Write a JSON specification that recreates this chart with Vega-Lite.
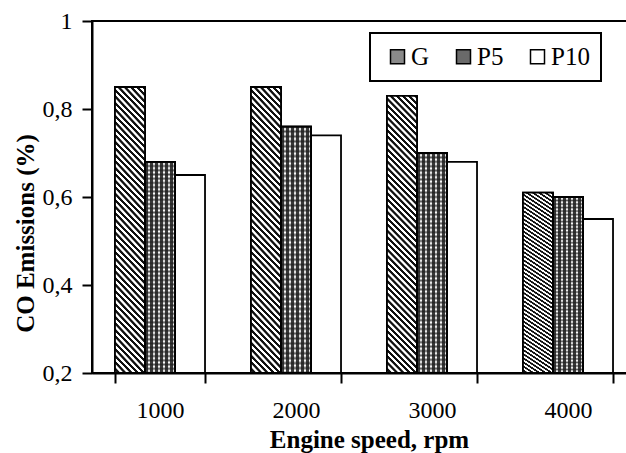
{
  "$schema": "https://vega.github.io/schema/vega-lite/v6.json",
  "autosize": "none",
  "padding": {"left": 92, "top": 21, "right": 0, "bottom": 80},
  "width": 544,
  "height": 352,
  "background": "white",
  "config": {
    "view": {"stroke": "black", "strokeWidth": 2},
    "axis": {
      "grid": false,
      "domainColor": "black",
      "domainWidth": 2,
      "tickColor": "black",
      "tickWidth": 2,
      "tickSize": 10,
      "labelFont": "Liberation Serif",
      "labelColor": "black",
      "titleFont": "Liberation Serif",
      "titleColor": "black",
      "titleFontWeight": "bold"
    }
  },
  "data": {
    "values": [
      {"rpm": "1000", "series": "G", "value": 0.85},
      {"rpm": "1000", "series": "P5", "value": 0.68},
      {"rpm": "1000", "series": "P10", "value": 0.65},
      {"rpm": "2000", "series": "G", "value": 0.85},
      {"rpm": "2000", "series": "P5", "value": 0.76},
      {"rpm": "2000", "series": "P10", "value": 0.74},
      {"rpm": "3000", "series": "G", "value": 0.83},
      {"rpm": "3000", "series": "P5", "value": 0.70},
      {"rpm": "3000", "series": "P10", "value": 0.68},
      {"rpm": "4000", "series": "G", "value": 0.61},
      {"rpm": "4000", "series": "P5", "value": 0.60},
      {"rpm": "4000", "series": "P10", "value": 0.55}
    ]
  },
  "encoding": {
    "x": {
      "field": "rpm",
      "type": "nominal",
      "scale": {"domain": ["1000", "2000", "3000", "4000"], "paddingInner": 0.338, "paddingOuter": 0.169},
      "axis": {
        "title": "Engine speed, rpm",
        "labelAngle": 0,
        "tickBand": "extent",
        "labelFontSize": 24,
        "labelPadding": 15,
        "titleFontSize": 25,
        "titleX": 277,
        "titleY": 74,
        "titleAlign": "center",
        "titleBaseline": "alphabetic"
      }
    },
    "xOffset": {
      "field": "series",
      "type": "nominal",
      "scale": {"domain": ["G", "P5", "P10"], "paddingInner": 0, "paddingOuter": 0}
    },
    "y": {
      "field": "value",
      "type": "quantitative",
      "scale": {"domain": [0.2, 1], "nice": false, "zero": false},
      "axis": {
        "title": "CO Emissions (%)",
        "values": [0.2, 0.4, 0.6, 0.8, 1],
        "labelExpr": "replace(format(datum.value, '~g'), '.', ',')",
        "labelFontSize": 24,
        "labelPadding": 10,
        "titleFontSize": 25,
        "titleAngle": 270,
        "titleAlign": "center",
        "titleBaseline": "alphabetic",
        "titleX": -59,
        "titleY": 212
      }
    },
    "y2": {"datum": 0.2}
  },
  "layer": [
    {
      "mark": {"type": "bar", "stroke": "black", "strokeWidth": 1.8},
      "encoding": {
        "fill": {
          "field": "series",
          "type": "nominal",
          "scale": {"domain": ["G", "P5", "P10"], "range": ["#8a8a8a", "#6a6a6a", "#ffffff"]},
          "legend": {
            "orient": "none",
            "legendX": 278,
            "legendY": 12,
            "direction": "horizontal",
            "gridAlign": "each",
            "title": " ",
            "titleOrient": "left",
            "titleFontSize": 25,
            "titlePadding": 4,
            "strokeColor": "black",
            "padding": 11,
            "symbolType": "square",
            "symbolSize": 196,
            "symbolStrokeColor": "black",
            "symbolStrokeWidth": 1.5,
            "symbolOpacity": 1,
            "labelFont": "Liberation Serif",
            "labelFontSize": 25,
            "labelColor": "black",
            "labelOffset": 1,
            "columnPadding": 21,
            "encode": {"legend": {"update": {"strokeWidth": {"value": 2}}}}
          }
        }
      }
    },
    {
      "transform": [{"filter": "datum.series === 'G'"}],
      "mark": {
        "type": "bar",
        "stroke": "black",
        "strokeWidth": 1.8,
        "fill": {"gradient": "linear", "x1": 0.4384, "y1": 1.06, "x2": 0.5616, "y2": -0.06, "stops": [
          {"offset": 0, "color": "#111"}, {"offset": 0.008, "color": "#111"}, {"offset": 0.01, "color": "#fff"}, {"offset": 0.018, "color": "#fff"},
          {"offset": 0.02, "color": "#111"}, {"offset": 0.028, "color": "#111"}, {"offset": 0.03, "color": "#fff"}, {"offset": 0.038, "color": "#fff"},
          {"offset": 0.04, "color": "#111"}, {"offset": 0.048, "color": "#111"}, {"offset": 0.05, "color": "#fff"}, {"offset": 0.058, "color": "#fff"},
          {"offset": 0.06, "color": "#111"}, {"offset": 0.068, "color": "#111"}, {"offset": 0.07, "color": "#fff"}, {"offset": 0.078, "color": "#fff"},
          {"offset": 0.08, "color": "#111"}, {"offset": 0.088, "color": "#111"}, {"offset": 0.09, "color": "#fff"}, {"offset": 0.098, "color": "#fff"},
          {"offset": 0.1, "color": "#111"}, {"offset": 0.108, "color": "#111"}, {"offset": 0.11, "color": "#fff"}, {"offset": 0.118, "color": "#fff"},
          {"offset": 0.12, "color": "#111"}, {"offset": 0.128, "color": "#111"}, {"offset": 0.13, "color": "#fff"}, {"offset": 0.138, "color": "#fff"},
          {"offset": 0.14, "color": "#111"}, {"offset": 0.148, "color": "#111"}, {"offset": 0.15, "color": "#fff"}, {"offset": 0.158, "color": "#fff"},
          {"offset": 0.16, "color": "#111"}, {"offset": 0.168, "color": "#111"}, {"offset": 0.17, "color": "#fff"}, {"offset": 0.178, "color": "#fff"},
          {"offset": 0.18, "color": "#111"}, {"offset": 0.188, "color": "#111"}, {"offset": 0.19, "color": "#fff"}, {"offset": 0.198, "color": "#fff"},
          {"offset": 0.2, "color": "#111"}, {"offset": 0.208, "color": "#111"}, {"offset": 0.21, "color": "#fff"}, {"offset": 0.218, "color": "#fff"},
          {"offset": 0.22, "color": "#111"}, {"offset": 0.228, "color": "#111"}, {"offset": 0.23, "color": "#fff"}, {"offset": 0.238, "color": "#fff"},
          {"offset": 0.24, "color": "#111"}, {"offset": 0.248, "color": "#111"}, {"offset": 0.25, "color": "#fff"}, {"offset": 0.258, "color": "#fff"},
          {"offset": 0.26, "color": "#111"}, {"offset": 0.268, "color": "#111"}, {"offset": 0.27, "color": "#fff"}, {"offset": 0.278, "color": "#fff"},
          {"offset": 0.28, "color": "#111"}, {"offset": 0.288, "color": "#111"}, {"offset": 0.29, "color": "#fff"}, {"offset": 0.298, "color": "#fff"},
          {"offset": 0.3, "color": "#111"}, {"offset": 0.308, "color": "#111"}, {"offset": 0.31, "color": "#fff"}, {"offset": 0.318, "color": "#fff"},
          {"offset": 0.32, "color": "#111"}, {"offset": 0.328, "color": "#111"}, {"offset": 0.33, "color": "#fff"}, {"offset": 0.338, "color": "#fff"},
          {"offset": 0.34, "color": "#111"}, {"offset": 0.348, "color": "#111"}, {"offset": 0.35, "color": "#fff"}, {"offset": 0.358, "color": "#fff"},
          {"offset": 0.36, "color": "#111"}, {"offset": 0.368, "color": "#111"}, {"offset": 0.37, "color": "#fff"}, {"offset": 0.378, "color": "#fff"},
          {"offset": 0.38, "color": "#111"}, {"offset": 0.388, "color": "#111"}, {"offset": 0.39, "color": "#fff"}, {"offset": 0.398, "color": "#fff"},
          {"offset": 0.4, "color": "#111"}, {"offset": 0.408, "color": "#111"}, {"offset": 0.41, "color": "#fff"}, {"offset": 0.418, "color": "#fff"},
          {"offset": 0.42, "color": "#111"}, {"offset": 0.428, "color": "#111"}, {"offset": 0.43, "color": "#fff"}, {"offset": 0.438, "color": "#fff"},
          {"offset": 0.44, "color": "#111"}, {"offset": 0.448, "color": "#111"}, {"offset": 0.45, "color": "#fff"}, {"offset": 0.458, "color": "#fff"},
          {"offset": 0.46, "color": "#111"}, {"offset": 0.468, "color": "#111"}, {"offset": 0.47, "color": "#fff"}, {"offset": 0.478, "color": "#fff"},
          {"offset": 0.48, "color": "#111"}, {"offset": 0.488, "color": "#111"}, {"offset": 0.49, "color": "#fff"}, {"offset": 0.498, "color": "#fff"},
          {"offset": 0.5, "color": "#111"}, {"offset": 0.508, "color": "#111"}, {"offset": 0.51, "color": "#fff"}, {"offset": 0.518, "color": "#fff"},
          {"offset": 0.52, "color": "#111"}, {"offset": 0.528, "color": "#111"}, {"offset": 0.53, "color": "#fff"}, {"offset": 0.538, "color": "#fff"},
          {"offset": 0.54, "color": "#111"}, {"offset": 0.548, "color": "#111"}, {"offset": 0.55, "color": "#fff"}, {"offset": 0.558, "color": "#fff"},
          {"offset": 0.56, "color": "#111"}, {"offset": 0.568, "color": "#111"}, {"offset": 0.57, "color": "#fff"}, {"offset": 0.578, "color": "#fff"},
          {"offset": 0.58, "color": "#111"}, {"offset": 0.588, "color": "#111"}, {"offset": 0.59, "color": "#fff"}, {"offset": 0.598, "color": "#fff"},
          {"offset": 0.6, "color": "#111"}, {"offset": 0.608, "color": "#111"}, {"offset": 0.61, "color": "#fff"}, {"offset": 0.618, "color": "#fff"},
          {"offset": 0.62, "color": "#111"}, {"offset": 0.628, "color": "#111"}, {"offset": 0.63, "color": "#fff"}, {"offset": 0.638, "color": "#fff"},
          {"offset": 0.64, "color": "#111"}, {"offset": 0.648, "color": "#111"}, {"offset": 0.65, "color": "#fff"}, {"offset": 0.658, "color": "#fff"},
          {"offset": 0.66, "color": "#111"}, {"offset": 0.668, "color": "#111"}, {"offset": 0.67, "color": "#fff"}, {"offset": 0.678, "color": "#fff"},
          {"offset": 0.68, "color": "#111"}, {"offset": 0.688, "color": "#111"}, {"offset": 0.69, "color": "#fff"}, {"offset": 0.698, "color": "#fff"},
          {"offset": 0.7, "color": "#111"}, {"offset": 0.708, "color": "#111"}, {"offset": 0.71, "color": "#fff"}, {"offset": 0.718, "color": "#fff"},
          {"offset": 0.72, "color": "#111"}, {"offset": 0.728, "color": "#111"}, {"offset": 0.73, "color": "#fff"}, {"offset": 0.738, "color": "#fff"},
          {"offset": 0.74, "color": "#111"}, {"offset": 0.748, "color": "#111"}, {"offset": 0.75, "color": "#fff"}, {"offset": 0.758, "color": "#fff"},
          {"offset": 0.76, "color": "#111"}, {"offset": 0.768, "color": "#111"}, {"offset": 0.77, "color": "#fff"}, {"offset": 0.778, "color": "#fff"},
          {"offset": 0.78, "color": "#111"}, {"offset": 0.788, "color": "#111"}, {"offset": 0.79, "color": "#fff"}, {"offset": 0.798, "color": "#fff"},
          {"offset": 0.8, "color": "#111"}, {"offset": 0.808, "color": "#111"}, {"offset": 0.81, "color": "#fff"}, {"offset": 0.818, "color": "#fff"},
          {"offset": 0.82, "color": "#111"}, {"offset": 0.828, "color": "#111"}, {"offset": 0.83, "color": "#fff"}, {"offset": 0.838, "color": "#fff"},
          {"offset": 0.84, "color": "#111"}, {"offset": 0.848, "color": "#111"}, {"offset": 0.85, "color": "#fff"}, {"offset": 0.858, "color": "#fff"},
          {"offset": 0.86, "color": "#111"}, {"offset": 0.868, "color": "#111"}, {"offset": 0.87, "color": "#fff"}, {"offset": 0.878, "color": "#fff"},
          {"offset": 0.88, "color": "#111"}, {"offset": 0.888, "color": "#111"}, {"offset": 0.89, "color": "#fff"}, {"offset": 0.898, "color": "#fff"},
          {"offset": 0.9, "color": "#111"}, {"offset": 0.908, "color": "#111"}, {"offset": 0.91, "color": "#fff"}, {"offset": 0.918, "color": "#fff"},
          {"offset": 0.92, "color": "#111"}, {"offset": 0.928, "color": "#111"}, {"offset": 0.93, "color": "#fff"}, {"offset": 0.938, "color": "#fff"},
          {"offset": 0.94, "color": "#111"}, {"offset": 0.948, "color": "#111"}, {"offset": 0.95, "color": "#fff"}, {"offset": 0.958, "color": "#fff"},
          {"offset": 0.96, "color": "#111"}, {"offset": 0.968, "color": "#111"}, {"offset": 0.97, "color": "#fff"}, {"offset": 0.978, "color": "#fff"},
          {"offset": 0.98, "color": "#111"}, {"offset": 0.988, "color": "#111"}, {"offset": 0.99, "color": "#fff"}, {"offset": 0.998, "color": "#fff"},
          {"offset": 1, "color": "#111"}
        ]}
      }
    },
    {
      "transform": [{"filter": "datum.series === 'P5'"}],
      "mark": {
        "type": "bar",
        "stroke": "black",
        "strokeWidth": 1.8,
        "fill": {"gradient": "linear", "x1": 0, "y1": 0, "x2": 1, "y2": 0, "stops": [
          {"offset": 0, "color": "#3c3c3c"}, {"offset": 0.09, "color": "#3c3c3c"}, {"offset": 0.105, "color": "#fff"}, {"offset": 0.152, "color": "#fff"},
          {"offset": 0.1667, "color": "#3c3c3c"}, {"offset": 0.2567, "color": "#3c3c3c"}, {"offset": 0.2717, "color": "#fff"}, {"offset": 0.3187, "color": "#fff"},
          {"offset": 0.3333, "color": "#3c3c3c"}, {"offset": 0.4233, "color": "#3c3c3c"}, {"offset": 0.4383, "color": "#fff"}, {"offset": 0.4853, "color": "#fff"},
          {"offset": 0.5, "color": "#3c3c3c"}, {"offset": 0.59, "color": "#3c3c3c"}, {"offset": 0.605, "color": "#fff"}, {"offset": 0.652, "color": "#fff"},
          {"offset": 0.6667, "color": "#3c3c3c"}, {"offset": 0.7567, "color": "#3c3c3c"}, {"offset": 0.7717, "color": "#fff"}, {"offset": 0.8187, "color": "#fff"},
          {"offset": 0.8333, "color": "#3c3c3c"}, {"offset": 0.9233, "color": "#3c3c3c"}, {"offset": 0.9383, "color": "#fff"}, {"offset": 0.9853, "color": "#fff"},
          {"offset": 1, "color": "#3c3c3c"}
        ]}
      }
    },
    {
      "transform": [{"filter": "datum.series === 'P5'"}],
      "mark": {
        "type": "bar",
        "stroke": "black",
        "strokeWidth": 1.8,
        "fill": {"gradient": "linear", "x1": 0, "y1": 0, "x2": 0, "y2": 1, "stops": [
          {"offset": 0, "color": "rgba(30,30,30,0.75)"}, {"offset": 0.01, "color": "rgba(30,30,30,0)"},
          {"offset": 0.02, "color": "rgba(30,30,30,0.75)"}, {"offset": 0.03, "color": "rgba(30,30,30,0)"},
          {"offset": 0.04, "color": "rgba(30,30,30,0.75)"}, {"offset": 0.05, "color": "rgba(30,30,30,0)"},
          {"offset": 0.06, "color": "rgba(30,30,30,0.75)"}, {"offset": 0.07, "color": "rgba(30,30,30,0)"},
          {"offset": 0.08, "color": "rgba(30,30,30,0.75)"}, {"offset": 0.09, "color": "rgba(30,30,30,0)"},
          {"offset": 0.1, "color": "rgba(30,30,30,0.75)"}, {"offset": 0.11, "color": "rgba(30,30,30,0)"},
          {"offset": 0.12, "color": "rgba(30,30,30,0.75)"}, {"offset": 0.13, "color": "rgba(30,30,30,0)"},
          {"offset": 0.14, "color": "rgba(30,30,30,0.75)"}, {"offset": 0.15, "color": "rgba(30,30,30,0)"},
          {"offset": 0.16, "color": "rgba(30,30,30,0.75)"}, {"offset": 0.17, "color": "rgba(30,30,30,0)"},
          {"offset": 0.18, "color": "rgba(30,30,30,0.75)"}, {"offset": 0.19, "color": "rgba(30,30,30,0)"},
          {"offset": 0.2, "color": "rgba(30,30,30,0.75)"}, {"offset": 0.21, "color": "rgba(30,30,30,0)"},
          {"offset": 0.22, "color": "rgba(30,30,30,0.75)"}, {"offset": 0.23, "color": "rgba(30,30,30,0)"},
          {"offset": 0.24, "color": "rgba(30,30,30,0.75)"}, {"offset": 0.25, "color": "rgba(30,30,30,0)"},
          {"offset": 0.26, "color": "rgba(30,30,30,0.75)"}, {"offset": 0.27, "color": "rgba(30,30,30,0)"},
          {"offset": 0.28, "color": "rgba(30,30,30,0.75)"}, {"offset": 0.29, "color": "rgba(30,30,30,0)"},
          {"offset": 0.3, "color": "rgba(30,30,30,0.75)"}, {"offset": 0.31, "color": "rgba(30,30,30,0)"},
          {"offset": 0.32, "color": "rgba(30,30,30,0.75)"}, {"offset": 0.33, "color": "rgba(30,30,30,0)"},
          {"offset": 0.34, "color": "rgba(30,30,30,0.75)"}, {"offset": 0.35, "color": "rgba(30,30,30,0)"},
          {"offset": 0.36, "color": "rgba(30,30,30,0.75)"}, {"offset": 0.37, "color": "rgba(30,30,30,0)"},
          {"offset": 0.38, "color": "rgba(30,30,30,0.75)"}, {"offset": 0.39, "color": "rgba(30,30,30,0)"},
          {"offset": 0.4, "color": "rgba(30,30,30,0.75)"}, {"offset": 0.41, "color": "rgba(30,30,30,0)"},
          {"offset": 0.42, "color": "rgba(30,30,30,0.75)"}, {"offset": 0.43, "color": "rgba(30,30,30,0)"},
          {"offset": 0.44, "color": "rgba(30,30,30,0.75)"}, {"offset": 0.45, "color": "rgba(30,30,30,0)"},
          {"offset": 0.46, "color": "rgba(30,30,30,0.75)"}, {"offset": 0.47, "color": "rgba(30,30,30,0)"},
          {"offset": 0.48, "color": "rgba(30,30,30,0.75)"}, {"offset": 0.49, "color": "rgba(30,30,30,0)"},
          {"offset": 0.5, "color": "rgba(30,30,30,0.75)"}, {"offset": 0.51, "color": "rgba(30,30,30,0)"},
          {"offset": 0.52, "color": "rgba(30,30,30,0.75)"}, {"offset": 0.53, "color": "rgba(30,30,30,0)"},
          {"offset": 0.54, "color": "rgba(30,30,30,0.75)"}, {"offset": 0.55, "color": "rgba(30,30,30,0)"},
          {"offset": 0.56, "color": "rgba(30,30,30,0.75)"}, {"offset": 0.57, "color": "rgba(30,30,30,0)"},
          {"offset": 0.58, "color": "rgba(30,30,30,0.75)"}, {"offset": 0.59, "color": "rgba(30,30,30,0)"},
          {"offset": 0.6, "color": "rgba(30,30,30,0.75)"}, {"offset": 0.61, "color": "rgba(30,30,30,0)"},
          {"offset": 0.62, "color": "rgba(30,30,30,0.75)"}, {"offset": 0.63, "color": "rgba(30,30,30,0)"},
          {"offset": 0.64, "color": "rgba(30,30,30,0.75)"}, {"offset": 0.65, "color": "rgba(30,30,30,0)"},
          {"offset": 0.66, "color": "rgba(30,30,30,0.75)"}, {"offset": 0.67, "color": "rgba(30,30,30,0)"},
          {"offset": 0.68, "color": "rgba(30,30,30,0.75)"}, {"offset": 0.69, "color": "rgba(30,30,30,0)"},
          {"offset": 0.7, "color": "rgba(30,30,30,0.75)"}, {"offset": 0.71, "color": "rgba(30,30,30,0)"},
          {"offset": 0.72, "color": "rgba(30,30,30,0.75)"}, {"offset": 0.73, "color": "rgba(30,30,30,0)"},
          {"offset": 0.74, "color": "rgba(30,30,30,0.75)"}, {"offset": 0.75, "color": "rgba(30,30,30,0)"},
          {"offset": 0.76, "color": "rgba(30,30,30,0.75)"}, {"offset": 0.77, "color": "rgba(30,30,30,0)"},
          {"offset": 0.78, "color": "rgba(30,30,30,0.75)"}, {"offset": 0.79, "color": "rgba(30,30,30,0)"},
          {"offset": 0.8, "color": "rgba(30,30,30,0.75)"}, {"offset": 0.81, "color": "rgba(30,30,30,0)"},
          {"offset": 0.82, "color": "rgba(30,30,30,0.75)"}, {"offset": 0.83, "color": "rgba(30,30,30,0)"},
          {"offset": 0.84, "color": "rgba(30,30,30,0.75)"}, {"offset": 0.85, "color": "rgba(30,30,30,0)"},
          {"offset": 0.86, "color": "rgba(30,30,30,0.75)"}, {"offset": 0.87, "color": "rgba(30,30,30,0)"},
          {"offset": 0.88, "color": "rgba(30,30,30,0.75)"}, {"offset": 0.89, "color": "rgba(30,30,30,0)"},
          {"offset": 0.9, "color": "rgba(30,30,30,0.75)"}, {"offset": 0.91, "color": "rgba(30,30,30,0)"},
          {"offset": 0.92, "color": "rgba(30,30,30,0.75)"}, {"offset": 0.93, "color": "rgba(30,30,30,0)"},
          {"offset": 0.94, "color": "rgba(30,30,30,0.75)"}, {"offset": 0.95, "color": "rgba(30,30,30,0)"},
          {"offset": 0.96, "color": "rgba(30,30,30,0.75)"}, {"offset": 0.97, "color": "rgba(30,30,30,0)"},
          {"offset": 0.98, "color": "rgba(30,30,30,0.75)"}, {"offset": 0.99, "color": "rgba(30,30,30,0)"},
          {"offset": 1, "color": "rgba(30,30,30,0.75)"}
        ]}
      }
    }
  ]
}
